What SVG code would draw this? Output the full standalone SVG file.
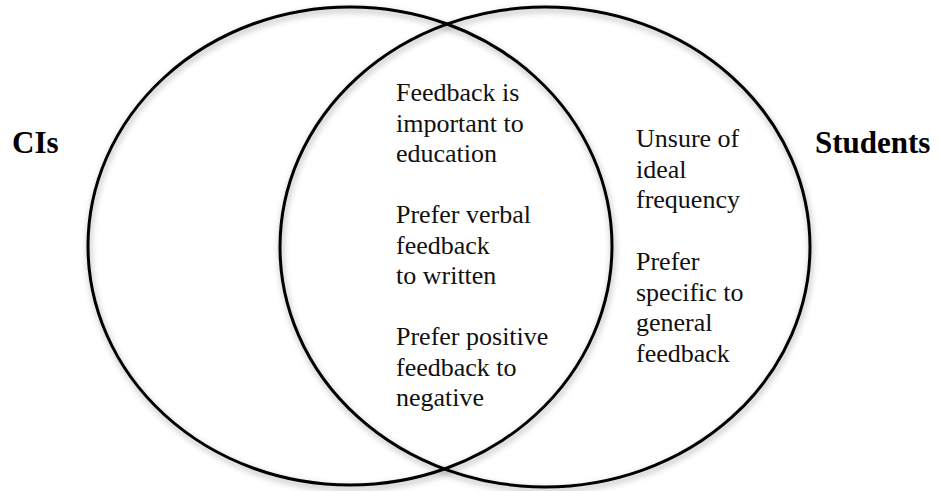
<svg xmlns="http://www.w3.org/2000/svg" width="940" height="491" viewBox="0 0 940 491">
  <defs>
    <filter id="soft-shadow" x="-10%" y="-10%" width="120%" height="120%">
      <feDropShadow dx="1" dy="3" stdDeviation="3" flood-color="#000" flood-opacity="0.35"/>
    </filter>
  </defs>
  <style>
    .set { fill: none; stroke: #000; stroke-width: 3; filter: url(#soft-shadow); }
    .item { font-family: "Liberation Serif", "Times New Roman", serif; font-size: 26px; fill: #111; }
    .title { font-family: "Liberation Serif", "Times New Roman", serif; font-size: 31px; font-weight: bold; fill: #000; }
  </style>
  <rect width="940" height="491" fill="#fff"/>

  <!-- set outlines -->
  <g id="set-cis">
    <ellipse class="set" cx="350" cy="246" rx="262" ry="239"/>
  </g>
  <g id="set-students">
    <ellipse class="set" cx="545" cy="247" rx="265" ry="240"/>
  </g>

  <!-- set titles -->
  <g id="label-cis">
    <text class="title" x="12" y="153">CIs</text>
  </g>
  <g id="label-students">
    <text class="title" x="815" y="153">Students</text>
  </g>

  <!-- shared findings (overlap) -->
  <g id="shared">
    <text class="item" x="396" y="101">Feedback is</text>
    <text class="item" x="396" y="131.5">important to</text>
    <text class="item" x="396" y="162">education</text>
    <text class="item" x="396" y="223">Prefer verbal</text>
    <text class="item" x="396" y="253.5">feedback</text>
    <text class="item" x="396" y="284">to written</text>
    <text class="item" x="396" y="345">Prefer positive</text>
    <text class="item" x="396" y="375.5">feedback to</text>
    <text class="item" x="396" y="406">negative</text>
  </g>

  <!-- student-only findings -->
  <g id="students-only">
    <text class="item" x="636" y="147">Unsure of</text>
    <text class="item" x="636" y="177.7">ideal</text>
    <text class="item" x="636" y="208.4">frequency</text>
    <text class="item" x="636" y="270">Prefer</text>
    <text class="item" x="636" y="300.7">specific to</text>
    <text class="item" x="636" y="331.4">general</text>
    <text class="item" x="636" y="362">feedback</text>
  </g>
</svg>
